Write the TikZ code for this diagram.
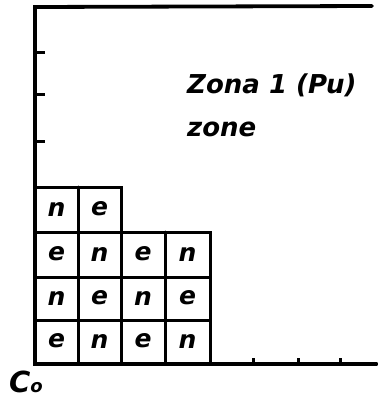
\documentclass[tikz,border=0pt]{standalone}
\usepackage{fontspec}
\newfontfamily\hand{DejaVu Sans}
\begin{document}
\begin{tikzpicture}[x=1pt,y=-1pt,
  axis/.style={line width=3.8pt,line cap=round},
  gridl/.style={line width=3pt,line cap=round},
  tick/.style={line width=3pt},
  cell/.style={font=\hand\bfseries\itshape\fontsize{25}{27}\selectfont,inner sep=0pt,anchor=center},
  lbl/.style={font=\hand\bfseries\itshape\fontsize{26}{28}\selectfont,inner sep=0pt,anchor=base west}]
\useasboundingbox (0,0) rectangle (377,403);
% axes
\coordinate (tl) at (35,7);
\coordinate (tr) at (372,6);
\coordinate (bl) at (35,364);
\coordinate (br) at (377,364);
\draw[axis] (tr) -- (tl) -- (bl) -- (br);
% left ticks
\foreach \y in {53,95,142} \draw[tick] (35,\y) -- (45,\y);
% bottom ticks
\foreach \x in {253,298,340} \draw[tick] (\x,364) -- (\x,358);
% grid
\draw[gridl] (35,187) -- (121,187) -- (121,363);
\draw[gridl] (35,232) -- (210,232) -- (210,363);
\draw[gridl] (35,277) -- (210,277);
\draw[gridl] (35,320) -- (210,320);
\draw[gridl] (78,187) -- (78,363);
\draw[gridl] (165,232) -- (165,363);
% cell letters
\node[cell] (c11) at (56.5,209) {n};
\node[cell] (c12) at (99.5,209) {e};
\node[cell] (c21) at (56.5,254) {e};
\node[cell] (c22) at (99.5,254) {n};
\node[cell] (c23) at (143,254) {e};
\node[cell] (c24) at (187.5,254) {n};
\node[cell] (c31) at (56.5,298) {n};
\node[cell] (c32) at (99.5,298) {e};
\node[cell] (c33) at (143,298) {n};
\node[cell] (c34) at (187.5,298) {e};
\node[cell] (c41) at (56.5,341) {e};
\node[cell] (c42) at (99.5,341) {n};
\node[cell] (c43) at (143,341) {e};
\node[cell] (c44) at (187.5,341) {n};
% labels
\node[lbl] (zona) at (187,94) {Zona 1 (Pu)};
\node[lbl] (zone) at (187,137) {zone};
\node[lbl,font=\hand\bfseries\itshape\fontsize{29}{30}\selectfont] (co) at (9,392) {C{\fontsize{18}{18}\selectfont o}};
\end{tikzpicture}
\end{document}
